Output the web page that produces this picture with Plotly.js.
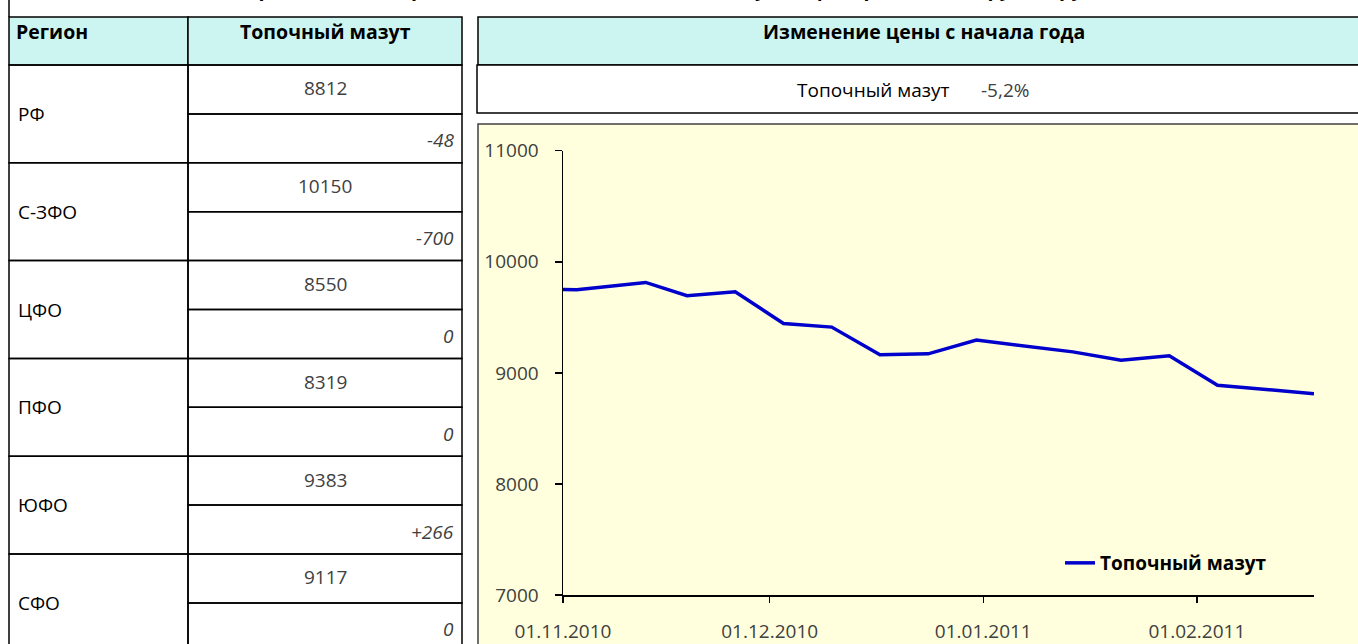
<!DOCTYPE html>
<html><head><meta charset="utf-8">
<script src="https://cdn.plot.ly/plotly-3.0.1.min.js"></script>
<style>html,body{margin:0;padding:0;background:#fff}#c{width:1358px;height:644px}</style>
</head><body><div id="c"></div>
<script>
// ---- data ----
var regions = ['РФ', 'С-ЗФО', 'ЦФО', 'ПФО', 'ЮФО', 'СФО'];
var prices = ['8812', '10150', '8550', '8319', '9383', '9117'];
var changes = ['-48', '-700', '0', '0', '+266', '0'];
var productName = 'Топочный мазут';
var ytdChange = '-5,2%';
var dates = ['2010-11-01','2010-11-03','2010-11-13','2010-11-19','2010-11-26','2010-12-03','2010-12-10',
             '2010-12-17','2010-12-24','2010-12-31','2011-01-14','2011-01-21','2011-01-28','2011-02-04','2011-02-18'];
var values = [9751, 9748, 9814, 9694, 9730, 9445, 9412, 9162, 9171, 9295, 9189, 9114, 9153, 8889, 8812];
var titleText = 'Средние цены производителей на топочный мазут по федеральным округам, руб/т';

// ---- layout helpers ----
var W = 1358, H = 644;
function px(x){ return x / W; }
function py(y){ return 1 - y / H; }
var FONT = 'Open Sans, Noto Sans, sans-serif';
var FS = 19, FSB = 19.5;
var CYAN = '#CCF5F1';
var shapes = [], ann = [];
function rect(x0, y0, x1, y1, fill, lc, lw){
  shapes.push({type:'rect', xref:'paper', yref:'paper', x0:px(x0), x1:px(x1), y0:py(y1), y1:py(y0),
    fillcolor: fill, line:{color: lc || '#000', width: lw === undefined ? 1.5 : lw}, layer:'below'});
}
function line(x0, y0, x1, y1){
  shapes.push({type:'line', xref:'paper', yref:'paper', x0:px(x0), x1:px(x1), y0:py(y0), y1:py(y1),
    line:{color:'#000', width:1.5}, layer:'below'});
}
function text(t, x, y, xanchor, opts){
  opts = opts || {};
  ann.push({text:t, xref:'paper', yref:'paper', x:px(x), y:py(y), xanchor:xanchor, yanchor:opts.yanchor || 'middle',
    showarrow:false, font:{family:FONT, size:opts.size || FS, color:opts.color || '#404040',
      weight: opts.weight || 'normal', style: opts.style || 'normal'}});
}

// title (cut at top, as in the reference)
text(titleText, 680, 4, 'center', {yanchor:'bottom', weight:'bold', color:'#000', size:FSB});
line(9, 0, 9, 17);

// left table
var tL = 9, tM = 188, tR = 462, tTop = 17, hdrB = 65, rowH = 97.8;
rect(tL, tTop, tM, hdrB, CYAN);
rect(tM, tTop, tR, hdrB, CYAN);
text('Регион', 14, 31, 'left', {weight:'bold', color:'#000', size:FSB});
text(productName, 325, 31, 'center', {weight:'bold', color:'#000', size:FSB});
for (var i = 0; i < regions.length; i++) {
  var y0 = hdrB + rowH * i, ym = y0 + rowH / 2, y1 = y0 + rowH;
  rect(tL, y0, tM, y1, 'rgba(0,0,0,0)');
  rect(tM, y0, tR, ym, 'rgba(0,0,0,0)');
  rect(tM, ym, tR, y1, 'rgba(0,0,0,0)');
  text(regions[i], 16, ym, 'left', {color:'#000'});
  text(prices[i], 325, y0 + rowH / 4 - 1, 'center');
  text(changes[i], 456, ym + rowH / 4 + 2, 'right', {style:'italic'});
}

// right header and info
rect(478, tTop, 1362, hdrB, CYAN);
rect(477, hdrB, 1362, 113, '#fff');
text('Изменение цены с начала года', 924, 31, 'center', {weight:'bold', color:'#000', size:FSB});
text(productName, 873, 90, 'center', {color:'#000'});
text(ytdChange, 1005, 90, 'center');

// chart panel
rect(478, 124, 1362, 660, '#FFFFDD', '#404040', 1.5);

var trace = {
  x: dates, y: values, type:'scatter', mode:'lines', name: productName,
  line:{color:'#0000CC', width:3.5}
};

var layout = {
  width: W, height: H, margin:{l:0, r:0, t:0, b:0},
  paper_bgcolor:'#fff', plot_bgcolor:'rgba(0,0,0,0)',
  shapes: shapes, annotations: ann,
  showlegend: true,
  legend:{x:px(1060), y:py(563), xanchor:'left', yanchor:'middle', bgcolor:'rgba(0,0,0,0)',
    font:{family:FONT, size:FS, color:'#000', weight:'bold'}, itemwidth:30},
  xaxis:{domain:[px(563), px(1314)], type:'date', range:['2010-11-01','2011-02-18'],
    tick0:'2010-11-01', dtick:'M1', tickformat:'%d.%m.%Y',
    showgrid:false, zeroline:false, showline:true, linecolor:'#000', linewidth:1.5,
    ticks:'outside', ticklen:6, tickwidth:1.5, tickcolor:'#000', ticklabelstandoff:13,
    tickfont:{family:FONT, size:FS, color:'#404040'}, fixedrange:true},
  yaxis:{domain:[py(595), py(150.7)], range:[7000, 11000], dtick:1000, tickformat:'d',
    showgrid:false, zeroline:false, showline:true, linecolor:'#000', linewidth:1.5,
    ticks:'outside', ticklen:7, tickwidth:1.5, tickcolor:'#000', ticklabelstandoff:12,
    tickfont:{family:FONT, size:FS, color:'#404040'}, fixedrange:true}
};

Plotly.newPlot('c', [trace], layout, {displayModeBar:false, staticPlot:true});
</script></body></html>
